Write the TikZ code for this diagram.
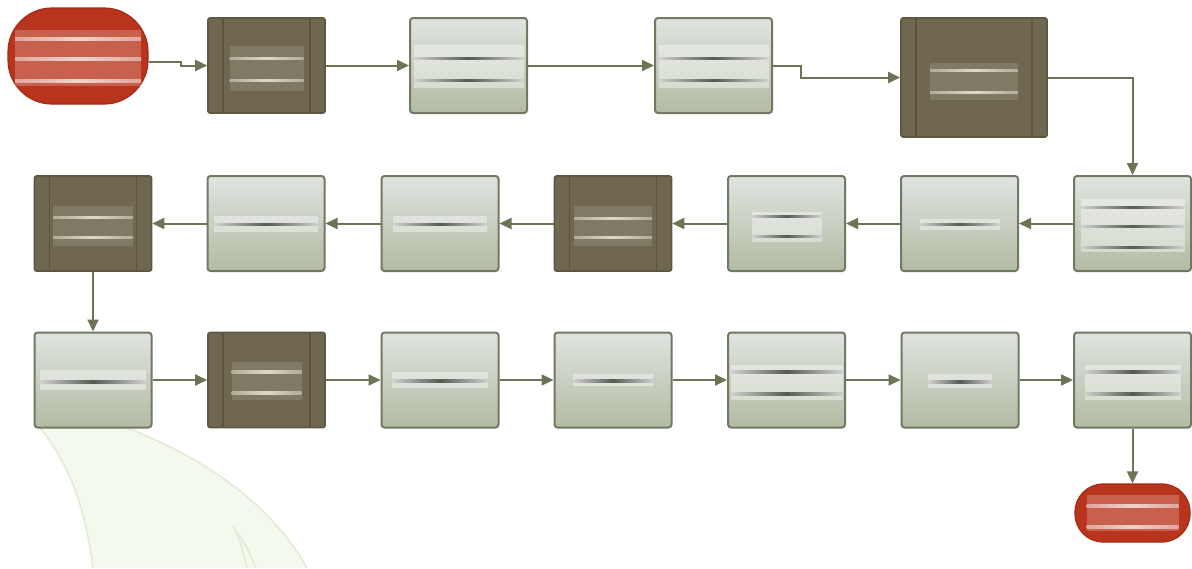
\documentclass[tikz,border=0pt]{standalone}
\usetikzlibrary{arrows.meta,calc}
\definecolor{arrowc}{HTML}{6B7556}
\definecolor{lborder}{HTML}{707A62}
\definecolor{ltop}{HTML}{E0E4E0}
\definecolor{lbot}{HTML}{B2BBA3}
\definecolor{dfill}{HTML}{6F674F}
\definecolor{dborder}{HTML}{5E5843}
\definecolor{dstripe}{HTML}{5A543F}
\definecolor{tred}{HTML}{B8341C}
\definecolor{tborder}{HTML}{A32C17}
\definecolor{blobfill}{HTML}{F4F9EE}
\definecolor{blobedge}{HTML}{E2EBD6}
\definecolor{inkl}{HTML}{3E443A}
\definecolor{inkd}{HTML}{E9E3D0}
\newcommand{\redact}[6]{%
  \fill[band#6] ($(#1)+(-#2,#3)$) rectangle ($(#1)+(#2,#4)$);
  \foreach \o in {#5}{\shade[line#6] ($(#1)+(-#2,\o-1.3)$) rectangle ($(#1)+(#2,\o+1.3)$);}%
}
\tikzset{
  lbox/.style={minimum width=58.5pt, minimum height=47.5pt, inner sep=0pt, draw=lborder, line width=1pt, rounded corners=1.5pt, top color=ltop, bottom color=lbot},
  dbox/.style={minimum width=58.5pt, minimum height=47.5pt, inner sep=0pt, draw=dborder, line width=0.8pt, rounded corners=1pt, fill=dfill,
    path picture={\draw[dstripe, line width=0.8pt] ([xshift=7.5pt]path picture bounding box.north west) -- ([xshift=7.5pt]path picture bounding box.south west);
                  \draw[dstripe, line width=0.8pt] ([xshift=-7.5pt]path picture bounding box.north east) -- ([xshift=-7.5pt]path picture bounding box.south east);}},
  term/.style={inner sep=0pt, fill=tred, draw=tborder, line width=0.6pt},
  arr/.style={draw=arrowc, line width=1pt, -{Triangle[length=6pt,width=5.5pt]}},
  bandl/.style={fill=white, fill opacity=0.4},
  linel/.style={left color=inkl!25!white, right color=inkl!25!white, middle color=inkl, opacity=0.85},
  bandd/.style={fill=white, fill opacity=0.12},
  lined/.style={left color=inkd!60!dfill, right color=inkd!60!dfill, middle color=inkd, opacity=0.9},
  bandt/.style={fill=white, fill opacity=0.22},
  linet/.style={left color=white!60!tred, right color=white!60!tred, middle color=white!85!tred, opacity=0.9},
}
\begin{document}
\begin{tikzpicture}[x=0.5pt,y=-0.5pt]
\useasboundingbox (0,0) rectangle (1192,568);
% faint background shape
\fill[blobfill] (40,428) .. controls (62,455) and (84,495) .. (93,568) -- (307,568) .. controls (272,505) and (205,458) .. (127,428) -- cycle;
\draw[blobedge, line width=0.8pt] (40,428) .. controls (62,455) and (84,495) .. (93,568);
\draw[blobedge, line width=0.8pt] (127,428) .. controls (205,458) and (272,505) .. (307,568);
\draw[blobedge, line width=0.8pt] (233,526) .. controls (240,540) .. (247,568);
\draw[blobedge, line width=0.8pt] (236,530) .. controls (246,545) .. (256,568);

% nodes
\node[term, minimum width=70pt, minimum height=48pt, rounded corners=22pt] (st) at (78,56) {};
\node[dbox] (A) at (266.5,65.5) {};
\node[lbox] (B) at (468.5,65.5) {};
\node[lbox] (C) at (713.5,65.5) {};
\node[dbox, minimum width=73pt, minimum height=59.5pt] (D) at (974,77.5) {};
\node[lbox] (E) at (1132.5,223.5) {};
\node[lbox] (F) at (959.5,223.5) {};
\node[lbox] (G) at (786.5,223.5) {};
\node[dbox] (H) at (613,223.5) {};
\node[lbox] (I) at (440,223.5) {};
\node[lbox] (J) at (266,223.5) {};
\node[dbox] (K) at (93,223.5) {};
\node[lbox] (L) at (93,380) {};
\node[dbox] (M) at (266.5,380) {};
\node[lbox] (N) at (440,380) {};
\node[lbox] (O) at (613,380) {};
\node[lbox] (P) at (786.5,380) {};
\node[lbox] (Q) at (960,380) {};
\node[lbox] (R) at (1132.5,380) {};
\node[term, minimum width=57.5pt, minimum height=29pt, rounded corners=14pt] (en) at (1132.5,513) {};

% redacted label bands
\redact{st}{63}{-26}{30}{-17,3,25}{t}
\redact{A}{37}{-20}{25}{-7,15}{d}
\redact{B}{55}{-21}{22}{-7,15}{l}
\redact{C}{55}{-21}{22}{-7,15}{l}
\redact{D}{44}{-15}{22}{-7,15}{d}
\redact{E}{52}{-25}{28}{-16,3,24}{l}
\redact{F}{40}{-5}{6}{1}{l}
\redact{G}{35}{-12}{18}{-7,13}{l}
\redact{H}{39}{-18}{22}{-5,14}{d}
\redact{I}{47}{-8}{8}{1}{l}
\redact{J}{52}{-8}{8}{1}{l}
\redact{K}{40}{-18}{22}{-6,14}{d}
\redact{L}{53}{-10}{10}{2}{l}
\redact{M}{35}{-18}{20}{-8,13}{d}
\redact{N}{48}{-8}{8}{1}{l}
\redact{O}{40}{-6}{6}{1}{l}
\redact{P}{56}{-15}{20}{-8,14}{l}
\redact{Q}{32}{-6}{8}{2}{l}
\redact{R}{48}{-15}{20}{-8,14}{l}
\redact{en}{46}{-18}{18}{-7,14}{t}

% connectors
\draw[arr] ([yshift=-3pt]st.east) -- ++(32,0) |- (A.west);
\draw[arr] (A.east) -- (B.west);
\draw[arr] (B.east) -- (C.west);
\draw[arr] (C.east) -- ++(28,0) |- (D.west);
\draw[arr] (D.east) -| (E.north);
\draw[arr] (E.west) -- (F.east);
\draw[arr] (F.west) -- (G.east);
\draw[arr] (G.west) -- (H.east);
\draw[arr] (H.west) -- (I.east);
\draw[arr] (I.west) -- (J.east);
\draw[arr] (J.west) -- (K.east);
\draw[arr] (K.south) -- (L.north);
\draw[arr] (L.east) -- (M.west);
\draw[arr] (M.east) -- (N.west);
\draw[arr] (N.east) -- (O.west);
\draw[arr] (O.east) -- (P.west);
\draw[arr] (P.east) -- (Q.west);
\draw[arr] (Q.east) -- (R.west);
\draw[arr] (R.south) -- (en.north);
\end{tikzpicture}
\end{document}
